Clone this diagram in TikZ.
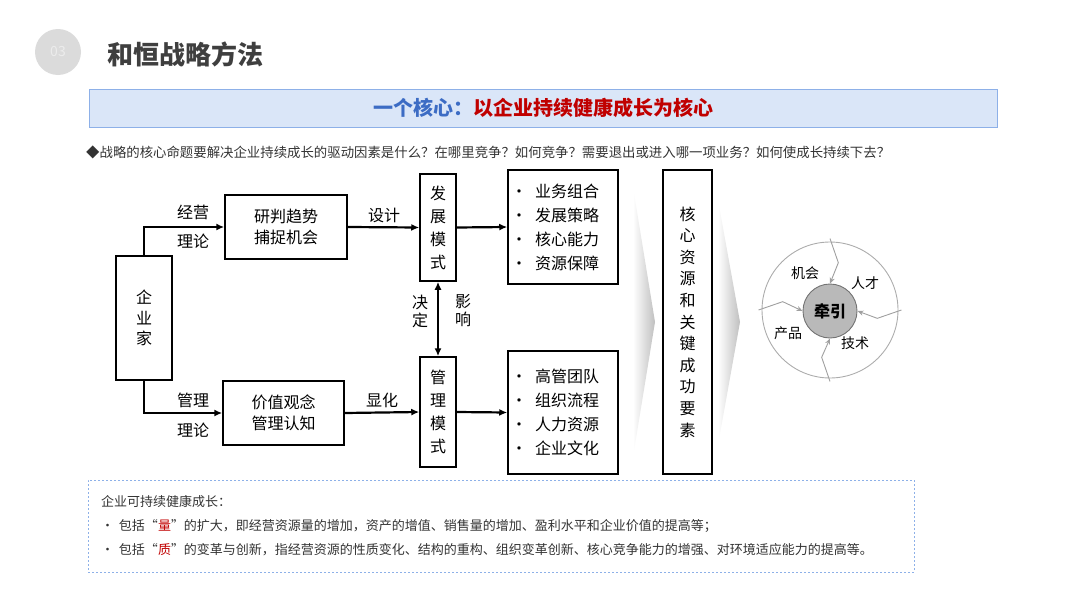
\documentclass[tikz,border=0pt]{standalone}
\usepackage{fontspec}
\setmainfont{Noto Sans CJK SC}
\usepackage{xcolor}
\usetikzlibrary{arrows.meta}

\definecolor{hdblue}{HTML}{3C6CC4}
\definecolor{hdred}{HTML}{C00000}
\definecolor{boxfill}{HTML}{DAE6F8}
\definecolor{boxline}{HTML}{8DB0E8}
\definecolor{titlegray}{HTML}{3F3F3F}
\definecolor{textgray}{HTML}{333333}

\tikzset{
  blk/.style={draw=black,line width=1.5pt,fill=white,inner sep=0pt,align=center,
    font=\fontsize{16}{20.5}\selectfont},
  vtext/.style={blk,font=\fontsize{16}{23}\selectfont},
  listbox/.style={blk,text width=104pt,inner xsep=3pt,align=left,font=\fontsize{16}{24}\selectfont},
  lbl/.style={inner sep=0pt,align=center,font=\fontsize{16}{18}\selectfont},
  flow/.style={line width=2.2pt,-{Latex[length=8pt,width=7pt]}},
  zig/.style={draw=gray!75,line width=0.9pt,-{Stealth[length=6pt,width=5pt]}},
  small/.style={inner sep=0pt,font=\fontsize{14}{14}\selectfont}
}

\begin{document}
\begin{tikzpicture}[x=1pt,y=-1pt]
  % \draw[help lines,step=20] (0,0) grid (1080,608);
  \useasboundingbox (0,0) rectangle (1080,608);

  % header
  \node[circle,fill=gray!28,minimum size=46pt,inner sep=0pt,text=white!85!gray,
    font=\fontsize{14}{14}\selectfont] (num) at (58,52) {03};
  \node[anchor=west,inner sep=0pt,text=titlegray,
    font=\fontsize{26}{26}\selectfont\bfseries] (title) at (107,54) {和恒战略方法};
  \node[draw=boxline,fill=boxfill,line width=1pt,minimum width=908pt,minimum height=38pt,
    font=\fontsize{20}{20}\selectfont\bfseries] (core) at (543,108)
    {\textcolor{hdblue}{一个核心：}\textcolor{hdred}{以企业持续健康成长为核心}};
  \node[anchor=west,inner sep=0pt,text=textgray,font=\fontsize{13.4}{14}\selectfont] (ask) at (86,152)
    {◆战略的核心命题要解决企业持续成长的驱动因素是什么？在哪里竞争？如何竞争？需要退出或进入哪一项业务？如何使成长持续下去？};

  % chevrons behind
  \shade[left color=white,right color=gray!50] (633,187) -- (655,322) -- (633,457) -- cycle;
  \shade[left color=white,right color=gray!50] (718,200) -- (740,322) -- (718,445) -- cycle;

  % boxes
  \node[blk,minimum width=56pt,minimum height=124pt] (qyj) at (144,318) {企\\业\\家};
  \node[blk,minimum width=122pt,minimum height=64pt] (yp) at (286,227) {研判趋势\\捕捉机会};
  \node[blk,minimum width=121pt,minimum height=64pt] (jz) at (283.5,413) {价值观念\\管理认知};
  \node[vtext,minimum width=36pt,minimum height=107pt] (fz) at (438,227.5) {发\\展\\模\\式};
  \node[vtext,minimum width=36pt,minimum height=110pt] (gl) at (438,412) {管\\理\\模\\式};
  \node[listbox,minimum height=114pt] (ls1) at (563,227)
    {•\hspace{8pt}业务组合\\•\hspace{8pt}发展策略\\•\hspace{8pt}核心能力\\•\hspace{8pt}资源保障};
  \node[listbox,minimum height=123pt] (ls2) at (563,412.5)
    {•\hspace{8pt}高管团队\\•\hspace{8pt}组织流程\\•\hspace{8pt}人力资源\\•\hspace{8pt}企业文化};
  \node[blk,minimum width=49pt,minimum height=304pt,font=\fontsize{16}{21.6}\selectfont] (key) at (687.5,322)
    {核\\心\\资\\源\\和\\关\\键\\成\\功\\要\\素};

  % connectors
  \draw[flow] (qyj.north) |- (yp.west);
  \draw[flow] (qyj.south) |- (jz.west);
  \draw[flow] (yp.east) -- (fz.west);
  \draw[flow] (jz.east) -- (gl.west);
  \draw[flow] (fz.east) -- (ls1.west);
  \draw[flow] (gl.east) -- (ls2.west);
  \draw[flow,{Latex[length=8pt,width=7pt]}-{Latex[length=8pt,width=7pt]}] (fz.south) -- (gl.north);

  \node[lbl] (jy) at (193,212) {经营};
  \node[lbl] (ll1) at (193,241) {理论};
  \node[lbl] (gm) at (193,400) {管理};
  \node[lbl] (ll2) at (193,430) {理论};
  \node[lbl] (sj) at (384,215) {设计};
  \node[lbl] (xh) at (382,400) {显化};
  \node[lbl] (jd) at (420,311) {决\\定};
  \node[lbl] (yx) at (463,311) {影\\响};

  % traction wheel
  \node[circle,draw=gray!65,line width=0.9pt,minimum size=136pt,inner sep=0pt] (ring) at (830,310) {};
  \node[circle,draw=gray!90!black,fill=gray!55,line width=0.9pt,minimum size=54pt,inner sep=0pt,
    font=\fontsize{16}{16}\selectfont\bfseries] (pull) at (830,311) {牵引};
  \foreach \a in {0,90,180,270}
    \draw[zig] ([shift={(\a:3pt)}]ring.\a) -- ([shift={(\a-10:48pt)}]ring.center) -- (pull.\a);
  \node[small] (jh) at (805,273) {机会};
  \node[small] (rc) at (865,283) {人才};
  \node[small] (cp) at (788,333) {产品};
  \node[small] (js) at (855,343) {技术};

  % note box
  \node[draw=boxline,dash pattern=on 2pt off 2pt,line width=0.9pt,minimum width=826pt,
    minimum height=92pt,text width=800pt,inner xsep=13pt,align=left,text=textgray,
    font=\fontsize{13}{24}\selectfont] (note) at (501,526)
    {企业可持续健康成长：\\
     •\hspace{5pt}包括“\textcolor{hdred}{量}”的扩大，即经营资源量的增加，资产的增值、销售量的增加、盈利水平和企业价值的提高等；\\
     •\hspace{5pt}包括“\textcolor{hdred}{质}”的变革与创新，指经营资源的性质变化、结构的重构、组织变革创新、核心竞争能力的增强、对环境适应能力的提高等。};
\end{tikzpicture}
\end{document}
